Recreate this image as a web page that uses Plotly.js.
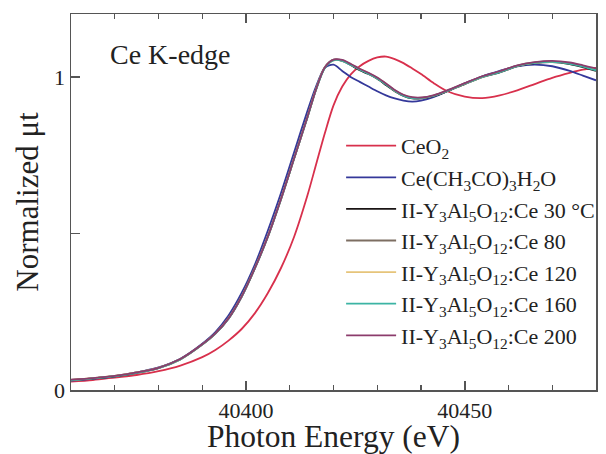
<!DOCTYPE html>
<html>
<head>
<meta charset="utf-8">
<script src="https://cdn.plot.ly/plotly-3.0.1.min.js"></script>
<style>html,body{margin:0;padding:0;background:#fff;}#chart{width:606px;height:454px;}</style>
</head>
<body>
<div id="chart"></div>
<script>
// Photon energy grid (eV)
var energy = [40360, 40365, 40370, 40375, 40380, 40385, 40390, 40393, 40396, 40399, 40402, 40405, 40408, 40411, 40414, 40416, 40418, 40420, 40422, 40424, 40426, 40428, 40430, 40432, 40434, 40436, 40438, 40440, 40443, 40446, 40450, 40454, 40458, 40462, 40466, 40470, 40474, 40477, 40480];

var seriesNames = ["CeO<sub>2</sub>", "Ce(CH<sub>3</sub>CO)<sub>3</sub>H<sub>2</sub>O", "II-Y<sub>3</sub>Al<sub>5</sub>O<sub>12</sub>:Ce 30 °C", "II-Y<sub>3</sub>Al<sub>5</sub>O<sub>12</sub>:Ce 80", "II-Y<sub>3</sub>Al<sub>5</sub>O<sub>12</sub>:Ce 120", "II-Y<sub>3</sub>Al<sub>5</sub>O<sub>12</sub>:Ce 160", "II-Y<sub>3</sub>Al<sub>5</sub>O<sub>12</sub>:Ce 200"];

var ceo2   = [0.027, 0.032, 0.040, 0.048, 0.060, 0.078, 0.105, 0.128, 0.158, 0.195, 0.245, 0.310, 0.390, 0.490, 0.620, 0.720, 0.820, 0.910, 0.970, 1.010, 1.035, 1.052, 1.063, 1.066, 1.058, 1.045, 1.028, 1.010, 0.980, 0.955, 0.938, 0.933, 0.942, 0.958, 0.978, 0.998, 1.014, 1.024, 1.030];
var ceAc   = [0.030, 0.036, 0.044, 0.056, 0.072, 0.100, 0.148, 0.185, 0.238, 0.310, 0.400, 0.510, 0.630, 0.760, 0.890, 0.970, 1.030, 1.040, 1.020, 1.000, 0.985, 0.970, 0.955, 0.942, 0.932, 0.925, 0.922, 0.925, 0.937, 0.955, 0.980, 1.003, 1.020, 1.035, 1.040, 1.035, 1.020, 1.005, 0.990];
var s30    = [0.032, 0.037, 0.044, 0.055, 0.070, 0.098, 0.145, 0.180, 0.228, 0.298, 0.388, 0.490, 0.610, 0.740, 0.870, 0.960, 1.030, 1.055, 1.052, 1.038, 1.022, 1.010, 0.995, 0.975, 0.955, 0.940, 0.932, 0.932, 0.940, 0.955, 0.978, 1.000, 1.015, 1.035, 1.045, 1.048, 1.042, 1.032, 1.020];
var s80    = [0.031, 0.037, 0.045, 0.056, 0.071, 0.099, 0.146, 0.181, 0.230, 0.300, 0.390, 0.492, 0.612, 0.742, 0.872, 0.962, 1.032, 1.056, 1.054, 1.040, 1.025, 1.012, 0.998, 0.978, 0.958, 0.942, 0.934, 0.933, 0.941, 0.957, 0.980, 1.002, 1.018, 1.037, 1.047, 1.050, 1.044, 1.035, 1.024];
var s120   = [0.032, 0.038, 0.045, 0.056, 0.071, 0.098, 0.145, 0.180, 0.229, 0.299, 0.389, 0.491, 0.611, 0.741, 0.871, 0.961, 1.031, 1.054, 1.053, 1.041, 1.026, 1.013, 0.997, 0.979, 0.957, 0.943, 0.935, 0.934, 0.942, 0.956, 0.979, 1.001, 1.017, 1.036, 1.046, 1.049, 1.045, 1.036, 1.025];
var s160   = [0.031, 0.037, 0.044, 0.055, 0.070, 0.098, 0.145, 0.180, 0.228, 0.298, 0.388, 0.490, 0.610, 0.740, 0.870, 0.960, 1.029, 1.054, 1.052, 1.039, 1.024, 1.011, 0.996, 0.977, 0.957, 0.941, 0.933, 0.933, 0.941, 0.956, 0.979, 1.001, 1.016, 1.036, 1.046, 1.049, 1.043, 1.034, 1.022];
var s200   = [0.033, 0.038, 0.045, 0.056, 0.071, 0.099, 0.146, 0.181, 0.229, 0.299, 0.389, 0.491, 0.611, 0.741, 0.871, 0.961, 1.031, 1.056, 1.055, 1.042, 1.027, 1.014, 0.999, 0.980, 0.959, 0.944, 0.936, 0.935, 0.943, 0.958, 0.981, 1.003, 1.019, 1.038, 1.048, 1.052, 1.047, 1.038, 1.028];

var seriesValues = [ceo2, ceAc, s30, s80, s120, s160, s200];
var seriesColors = ["#d8304c", "#34389a", "#1a1414", "#7d6e62", "#e6c47a", "#3cb4a4", "#8c3c6c"];

var yTickVals = [0, 0.5, 1];
var yTickText = ["0", "", "1"];
var xTickVals = [40400, 40450];
var xTickText = ["40400", "40450"];

var traces = seriesValues.map(function (vals, i) {
  return {
    x: energy, y: vals, type: "scatter", mode: "lines",
    name: seriesNames[i],
    line: { color: seriesColors[i], width: 1.8, shape: "spline", smoothing: 0.8 }
  };
});

var serif = '"Liberation Serif", "Times New Roman", Times, serif';
var layout = {
  width: 606, height: 454,
  margin: { l: 71, r: 6, t: 14, b: 64 },
  paper_bgcolor: "#ffffff", plot_bgcolor: "#ffffff",
  font: { family: serif, color: "#222", size: 22 },
  showlegend: true,
  legend: {
    x: 0.5145, y: 0.705, xanchor: "left", yanchor: "top",
    bgcolor: "rgba(0,0,0,0)", borderwidth: 0,
    font: { family: serif, size: 22, color: "#222" },
    itemwidth: 50, tracegroupgap: 0
  },
  xaxis: {
    range: [40360, 40480], showgrid: false, zeroline: false,
    showline: true, linecolor: "#555", linewidth: 1.5, mirror: "ticks",
    ticks: "inside", ticklen: 9, tickwidth: 1.5, tickcolor: "#555",
    tickvals: xTickVals, ticktext: xTickText,
    tickfont: { family: serif, size: 22, color: "#222" },
    minor: { dtick: 10, tick0: 40360, ticks: "inside", ticklen: 5, tickwidth: 1.2, tickcolor: "#555", showgrid: false },
    title: { text: "Photon Energy (eV)", font: { family: serif, size: 31.5, color: "#222" }, standoff: 12 }
  },
  yaxis: {
    range: [0, 1.202], showgrid: false, zeroline: false,
    showline: true, linecolor: "#555", linewidth: 1.5, mirror: true,
    ticks: "inside", ticklen: 9, tickwidth: 1.5, tickcolor: "#555",
    tickvals: yTickVals, ticktext: yTickText,
    tickfont: { family: serif, size: 22, color: "#222" },
    title: { text: "Normalized μt", font: { family: serif, size: 31, color: "#222" }, standoff: 6 }
  },
  annotations: [{
    text: "Ce K-edge", xref: "paper", yref: "paper", x: 0.07, y: 0.893,
    xanchor: "left", yanchor: "middle", showarrow: false,
    font: { family: serif, size: 28, color: "#222" }
  }]
};

Plotly.newPlot("chart", traces, layout, { displayModeBar: false, staticPlot: true });
</script>
</body>
</html>
